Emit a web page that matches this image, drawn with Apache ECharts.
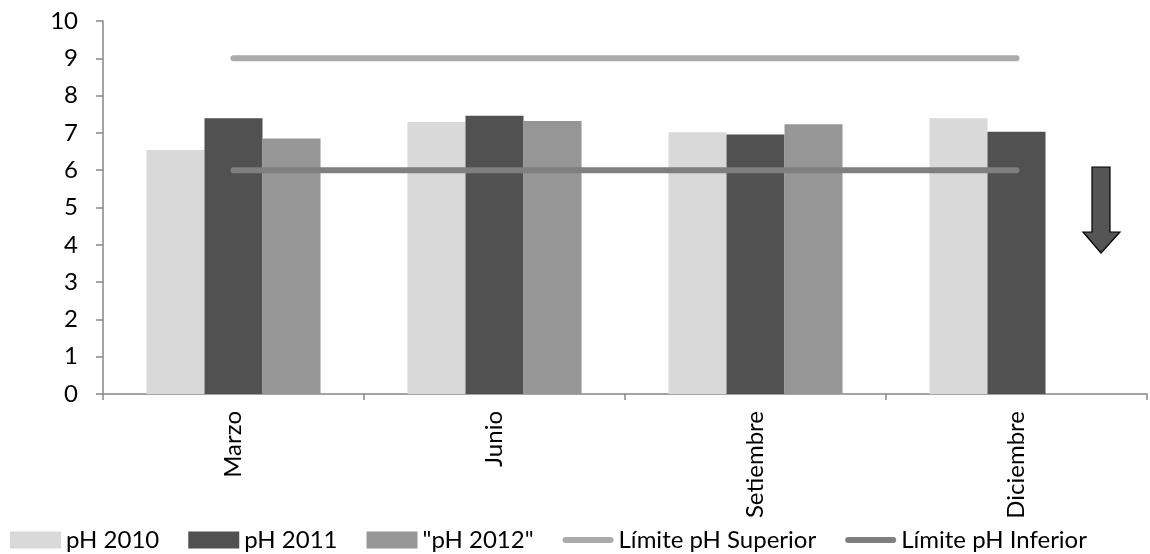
<!DOCTYPE html>
<html>
<head>
<meta charset="utf-8">
<script src="https://cdn.jsdelivr.net/npm/echarts@6/dist/echarts.min.js"></script>
<style>
  html, body { margin: 0; padding: 0; background: #fff; }
  #chart { width: 1150px; height: 554px; }
</style>
</head>
<body>
<div id="chart"></div>
<script>
// Meses de muestreo
const categories = ['Marzo', 'Junio', 'Setiembre', 'Diciembre'];

// Valores de pH medidos por año
const ph2010 = [6.54, 7.29, 7.02, 7.39];
const ph2011 = [7.39, 7.46, 6.96, 7.03];
const ph2012 = [6.85, 7.32, 7.23, null];

// Límites permisibles de pH
const limiteSuperior = [9, 9, 9, 9];
const limiteInferior = [6, 6, 6, 6];

const yTicks = { min: 0, max: 10, interval: 1 };

const FONT = 'Lato, "Noto Sans", sans-serif';
const FONT_SIZE = 24;
const AXIS_COLOR = '#868686';
const LINE_ICON = 'path://M3,0 L47,0 A3,3 0 0 1 47,6 L3,6 A3,3 0 0 1 3,0 Z';

const chart = echarts.init(document.getElementById('chart'));

chart.setOption({
  animation: false,
  textStyle: { fontFamily: FONT, color: '#000' },
  grid: { left: 103, right: 3, top: 21, bottom: 160, containLabel: false },
  legend: {
    left: 10,
    top: 528,
    padding: 0,
    itemWidth: 51,
    itemHeight: 17,
    itemGap: 29,
    textStyle: { fontFamily: FONT, fontSize: FONT_SIZE, color: '#000' },
    data: [
      { name: 'pH 2010', icon: 'rect' },
      { name: 'pH 2011', icon: 'rect' },
      { name: '"pH 2012"', icon: 'rect' },
      { name: 'Límite pH Superior', icon: LINE_ICON, itemStyle: { color: '#ababab' } },
      { name: 'Límite pH Inferior', icon: LINE_ICON, itemStyle: { color: '#7f7f7f' } }
    ]
  },
  xAxis: {
    type: 'category',
    data: categories,
    axisLine: { lineStyle: { color: AXIS_COLOR, width: 1.5 } },
    axisTick: { show: true, length: 6, alignWithLabel: false, lineStyle: { color: AXIS_COLOR, width: 1.5 } },
    axisLabel: { rotate: 90, margin: 17, fontSize: FONT_SIZE, color: '#000', fontFamily: FONT }
  },
  yAxis: {
    type: 'value',
    min: yTicks.min,
    max: yTicks.max,
    interval: yTicks.interval,
    splitLine: { show: false },
    axisLine: { show: true, lineStyle: { color: AXIS_COLOR, width: 1.5 } },
    axisTick: { show: true, length: 7, lineStyle: { color: AXIS_COLOR, width: 1.5 } },
    axisLabel: { margin: 25, fontSize: FONT_SIZE, color: '#000', fontFamily: FONT }
  },
  series: [
    { name: 'pH 2010', type: 'bar', data: ph2010, barGap: '0%', barCategoryGap: '33.3%', itemStyle: { color: '#d9d9d9' } },
    { name: 'pH 2011', type: 'bar', data: ph2011, itemStyle: { color: '#515151' } },
    { name: '"pH 2012"', type: 'bar', data: ph2012, itemStyle: { color: '#969696' } },
    { name: 'Límite pH Superior', type: 'line', data: limiteSuperior, symbol: 'none',
      itemStyle: { color: '#ababab' }, lineStyle: { color: '#ababab', width: 6, cap: 'round' } },
    { name: 'Límite pH Inferior', type: 'line', data: limiteInferior, symbol: 'none',
      itemStyle: { color: '#7f7f7f' }, lineStyle: { color: '#7f7f7f', width: 6, cap: 'round' } }
  ],
  graphic: [
    {
      type: 'polygon',
      shape: {
        points: [[1092, 167], [1110, 167], [1110, 232], [1120, 232], [1101, 253], [1083, 232], [1092, 232]]
      },
      style: { fill: '#555555', stroke: '#000', lineWidth: 1.2 }
    }
  ]
});
</script>
</body>
</html>
